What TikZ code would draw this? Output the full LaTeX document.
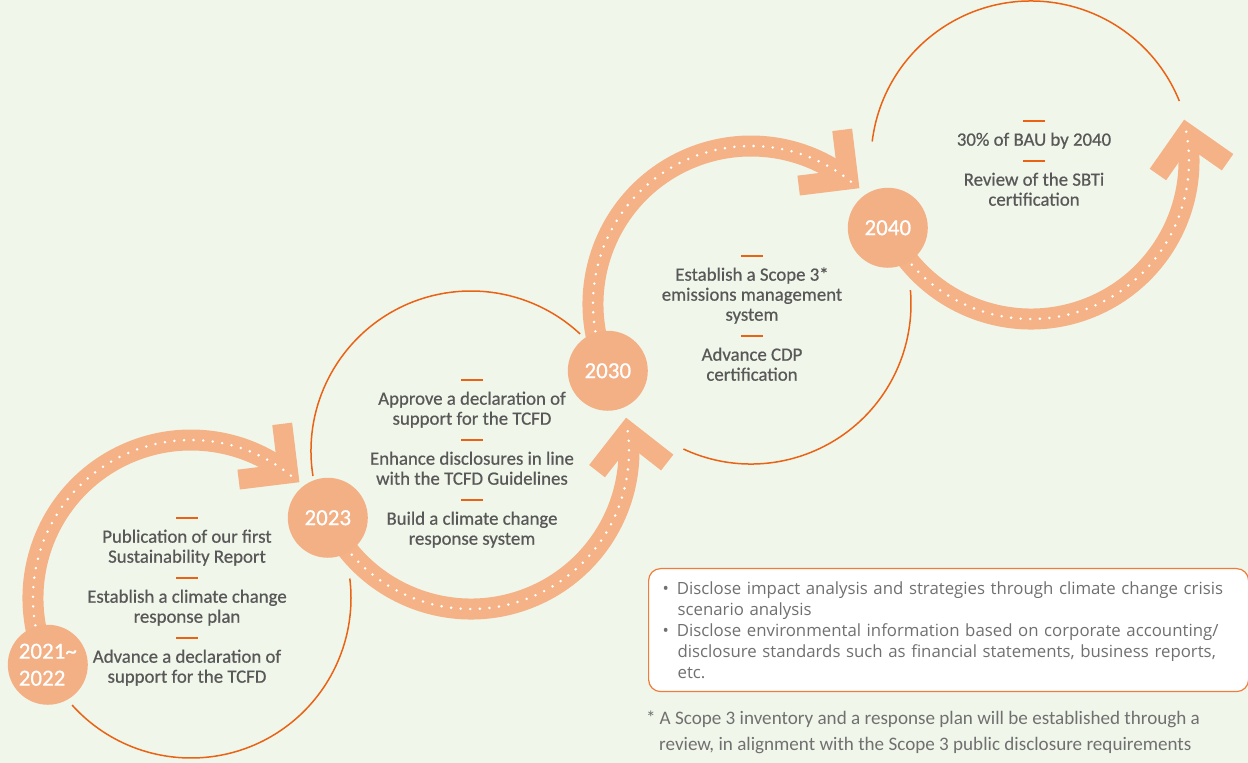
\documentclass[tikz,border=0pt]{standalone}
\usepackage{fontspec}
\setmainfont{Carlito}
\newfontfamily\stepfont{Carlito}[FakeBold=0.6]
\newfontfamily\notefont{Open Sans}
\usetikzlibrary{calc,backgrounds}
\definecolor{bgcream}{RGB}{241,246,235}
\definecolor{peach}{RGB}{244,178,134}
\definecolor{peachnode}{RGB}{244,176,133}
\definecolor{lineorange}{RGB}{234,99,20}
\definecolor{boxorange}{RGB}{238,125,60}
\definecolor{textgray}{RGB}{88,88,88}
\definecolor{notegray}{RGB}{112,112,112}
\newcommand{\bardash}{\rule{0pt}{12pt}\textcolor{lineorange}{\rule[3.6pt]{22pt}{2.4pt}}}

\begin{document}
\begin{tikzpicture}[x=1pt,y=1pt,
    band/.style={draw=peach, line width=21pt},
    bandtip/.style={draw=peach, line width=20pt, line join=miter},
    dots/.style={draw=white, line width=2.8pt, line cap=round, dash pattern=on 0pt off 9.6pt},
    ring/.style={draw=lineorange, line width=1.5pt, yshift=-5pt},
    year/.style={circle, fill=peachnode, minimum size=80pt, inner sep=0pt, text=white, font=\stepfont\fontsize{23}{27}\selectfont},
    steps/.style={anchor=north, align=center, inner sep=0pt, text=textgray, font=\stepfont\fontsize{18.8}{20}\selectfont},
    notebox/.style={draw=boxorange, fill=white, rounded corners=12pt, line width=1.2pt, minimum height=123pt, text width=572pt, inner xsep=14pt, align=left, text=notegray, font=\notefont\fontsize{16.8}{21}\selectfont}]
  \useasboundingbox (0,0) rectangle (1248,763);
  % Ring centres
  \coordinate (c1) at (191,165);
  \coordinate (c2) at (471,312);
  \coordinate (c3) at (751,459);
  \coordinate (c4) at (1031,602);
  % Thin orange rings
  \draw[ring] ($(c1)+(222:160)$) arc[start angle=222, end angle=367, radius=160];
  \draw[ring] ($(c2)+(189:160)$) arc[start angle=189, end angle=47, radius=160];
  \draw[ring] ($(c3)+(245:160)$) arc[start angle=245, end angle=365, radius=160];
  \draw[ring] ($(c4)+(173:160)$) arc[start angle=173, end angle=22, radius=160];
  % Year nodes
  \node[year, align=left] (y1) at ($(c1)+(205:158)$) {2021\textasciitilde\\2022};
  \node[year] (y2) at ($(c2)+(205:158)$) {2023};
  \node[year] (y3) at ($(c3)+(205:158)$) {2030};
  \node[year] (y4) at ($(c4)+(205:158)$) {2040};
  % Thick arrows behind the year nodes
  \begin{pgfonlayer}{background}
    \fill[bgcream] (0,0) rectangle (1248,763);
    \draw[band] (y1.center) arc[start angle=205, end angle=52, radius=158];
    \draw[band] (y2.center) arc[start angle=205, end angle=367, radius=158];
    \draw[band] (y3.center) arc[start angle=205, end angle=52, radius=158];
    \draw[band] (y4.center) arc[start angle=205, end angle=370, radius=158];
    \foreach \c/\t/\b in {c1/52/142, c2/7/277, c3/52/142, c4/10/280} {
      \draw[bandtip] ($(\c)+(\t:158)+(\b+45:50)$) -- ($(\c)+(\t:158)$) -- ($(\c)+(\t:158)+(\b-45:50)$);
    }
    \foreach \c/\s/\e in {c1/190/50, c2/221/369, c3/190/50, c4/221/372}
      \draw[dots] ($(\c)+(\s:158)$) arc[start angle=\s, end angle=\e, radius=158];
  \end{pgfonlayer}
  % Steps inside each ring
  \node[steps] (s1) at (187,252.5) {\bardash\\Publication of our first\\Sustainability Report\\
    \bardash\\Establish a climate change\\response plan\\
    \bardash\\Advance a declaration of\\support for the TCFD};
  \node[steps] (s2) at (472,390.5) {\bardash\\Approve a declaration of\\support for the TCFD\\
    \bardash\\Enhance disclosures in line\\with the TCFD Guidelines\\
    \bardash\\Build a climate change\\response system};
  \node[steps] (s3) at (752,514.5) {\bardash\\Establish a Scope 3*\\emissions management\\system\\
    \bardash\\Advance CDP\\certification};
  \node[steps] (s4) at (1034,649.5) {\bardash\\30\% of BAU by 2040\\
    \bardash\\Review of the SBTi\\certification};
  % Disclosure box and footnote
  \node[notebox, anchor=north west] (note) at (648,195) {%
    \textbullet\hspace{8pt}Disclose impact analysis and strategies through climate change crisis\\
    \hspace*{15pt}scenario analysis\\
    \textbullet\hspace{8pt}Disclose environmental information based on corporate accounting/\\
    \hspace*{15pt}disclosure standards such as financial statements, business reports,\\
    \hspace*{15pt}etc.};
  \node[anchor=north west, align=left, inner sep=0pt, text=notegray, font=\fontsize{19.1}{26}\selectfont] (foot) at (646,52.5) {%
    \rule{0pt}{14pt}*\hspace{4pt}A Scope 3 inventory and a response plan will be established through a\\
    \hspace*{13pt}review, in alignment with the Scope 3 public disclosure requirements};
\end{tikzpicture}
\end{document}
